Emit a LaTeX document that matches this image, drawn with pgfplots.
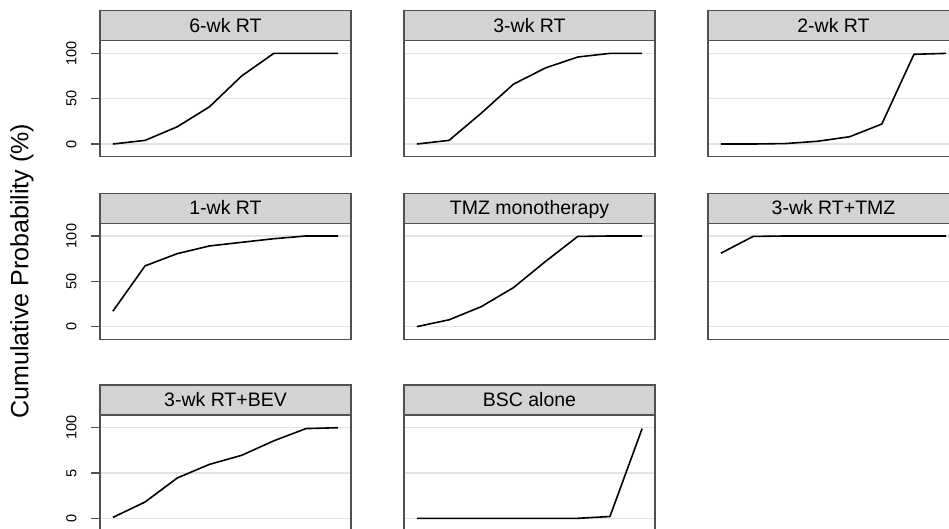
\documentclass[border=0pt]{standalone}
\usepackage{fontspec}
\setmainfont{Liberation Sans}
\usepackage{pgfplots}
\pgfplotsset{compat=1.18}
\definecolor{frm}{HTML}{505050}
\definecolor{strp}{HTML}{D3D3D3}
\definecolor{grd}{HTML}{E3E3E3}
\newcommand{\tl}[1]{\mbox{\fontsize{14.5}{16}\selectfont #1}}

\pgfplotsset{panel/.style={
  scale only axis, width=251pt, height=116pt,
  xmin=0.6, xmax=8.4, ymin=-14, ymax=114,
  xtick=\empty, ytick={0,50,100},
  yticklabels={{\tl{0}},{\tl{50}},{\tl{100}}},
  ymajorgrids, grid style={grd, line width=1.4pt},
  axis line style={frm, line width=1.3pt},
  tick style={frm, line width=1.3pt},
  major tick length=9pt, tick align=outside, ytick pos=left,
  yticklabel style={rotate=90, anchor=south, yshift=11pt},
  /pgf/number format/assume math mode=true,
  anchor=north west,
  cycle list={{black, line width=1.6pt, line join=round}},
  every axis plot post/.append style={black, line width=1.6pt, line join=round},
},
nolab/.style={yticklabels={}, major tick length=0pt}}

\newcommand{\strip}[3]{%
  \draw[frm, line width=1.3pt, fill=strp] ({#1pt},{(528-#2)*1pt}) rectangle ({(#1+251)*1pt},{(528-#2+30)*1pt});
  \node[font=\fontsize{19.5}{19.5}\selectfont, anchor=base, inner sep=0pt] at ({(#1+125.5)*1pt},{(528-#2+8.4)*1pt}) {#3};
}

\begin{document}
\begin{tikzpicture}
\path[use as bounding box] (0pt,0pt) rectangle (949pt,528pt);
\clip (0pt,0pt) rectangle (949pt,528pt);

% Row 1
\begin{axis}[panel, at={(100pt,487.3pt)}]
\addplot coordinates {(1,0)(2,4)(3,19)(4,41)(5,75)(6,100)(7,100)(8,100)};
\end{axis}
\begin{axis}[panel, nolab, at={(404pt,487.3pt)}]
\addplot coordinates {(1,0)(2,4)(3,34)(4,66)(5,84)(6,96)(7,100)(8,100)};
\end{axis}
\begin{axis}[panel, nolab, at={(708pt,487.3pt)}]
\addplot coordinates {(1,0)(2,0)(3,0.5)(4,3)(5,8)(6,22)(7,99)(8,100)};
\end{axis}

% Row 2
\begin{axis}[panel, at={(100pt,304.7pt)}]
\addplot coordinates {(1,17)(2,67)(3,80.5)(4,89)(5,93)(6,97)(7,100)(8,100)};
\end{axis}
\begin{axis}[panel, nolab, at={(404pt,304.7pt)}]
\addplot coordinates {(1,0)(2,7.5)(3,22)(4,43)(5,72)(6,99.5)(7,100)(8,100)};
\end{axis}
\begin{axis}[panel, nolab, at={(708pt,304.7pt)}]
\addplot coordinates {(1,81)(2,99.5)(3,100)(4,100)(5,100)(6,100)(7,100)(8,100)};
\end{axis}

% Row 3
\begin{axis}[panel, at={(100pt,113pt)}, yticklabels={{\tl{0}},{\tl{5}},{\tl{100}}}]
\addplot coordinates {(1,1)(2,18)(3,44.5)(4,59.5)(5,69.5)(6,85.5)(7,99)(8,100)};
\end{axis}
\begin{axis}[panel, nolab, at={(404pt,113pt)}]
\addplot coordinates {(1,0)(2,0)(3,0)(4,0)(5,0)(6,0)(7,2)(8,99)};
\end{axis}

\strip{100}{40.7}{6-wk RT}
\strip{404}{40.7}{3-wk RT}
\strip{708}{40.7}{2-wk RT}
\strip{100}{223.3}{1-wk RT}
\strip{404}{223.3}{TMZ monotherapy}
\strip{708}{223.3}{3-wk RT+TMZ}
\strip{100}{415}{3-wk RT+BEV}
\strip{404}{415}{BSC alone}

\node[rotate=90, font=\fontsize{25}{25}\selectfont] at (22pt,257pt) {Cumulative Probability (\%)};
\end{tikzpicture}
\end{document}
